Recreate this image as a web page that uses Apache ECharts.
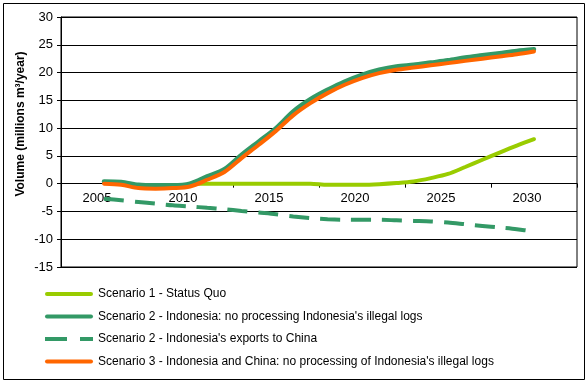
<!DOCTYPE html>
<html>
<head>
<meta charset="utf-8">
<script src="https://cdn.jsdelivr.net/npm/echarts@6/dist/echarts.min.js"></script>
<style>
html,body{margin:0;padding:0;background:#fff;}
#c{width:587px;height:384px;}
</style>
</head>
<body>
<div id="c"></div>
<script>
// Categories: years on the axis (2003..2032); data runs 2005..2030
var years = [];
for (var y = 2003; y <= 2032; y++) years.push(String(y));

var yTicks = [-15, -10, -5, 0, 5, 10, 15, 20, 25, 30];

// values 2005..2030 (null = not drawn)
var s1StatusQuo = [null, null, null, null, null, 0, 0, 0, 0, 0, 0, 0, 0, -0.2, -0.2, -0.2, -0.1, 0.1, 0.4, 1.0, 1.75, 3.0, 4.3, 5.6, 6.85, 8.0];
var s2Indonesia = [0.4, 0.3, -0.2, -0.3, -0.3, 0.0, 1.3, 2.6, 5.2, 7.6, 10.0, 13.0, 15.2, 16.9, 18.4, 19.6, 20.5, 21.1, 21.4, 21.8, 22.2, 22.7, 23.1, 23.5, 23.9, 24.2];
var s2Exports = [-2.7, -3.0, -3.3, -3.6, -3.9, -4.1, -4.35, -4.6, -4.9, -5.2, -5.5, -5.9, -6.2, -6.4, -6.5, -6.5, -6.5, -6.6, -6.7, -6.8, -7.0, -7.3, -7.6, -7.9, -8.2, -8.6];
var s3IndoChina = [0.0, -0.2, -0.8, -0.9, -0.8, -0.5, 0.7, 2.1, 4.6, 7.0, 9.5, 12.3, 14.5, 16.3, 17.8, 19.0, 19.9, 20.5, 20.9, 21.3, 21.7, 22.1, 22.5, 22.9, 23.3, 23.8];

var names = [
  'Scenario 1 - Status Quo',
  "Scenario 2 - Indonesia: no processing Indonesia's illegal logs",
  "Scenario 2 - Indonesia's exports to China",
  "Scenario 3 - Indonesia and China: no processing of Indonesia's illegal logs"
];

function pad(arr) {
  return [null, null].concat(arr).concat([null, null]);
}

var FONT = '"Liberation Sans", Arial, sans-serif';
var GRID_TOP = 17, GRID_BOTTOM = 117, H = 384;
var gridH = H - GRID_TOP - GRID_BOTTOM;
var zeroOffset = -gridH * (0 - yTicks[0]) / (yTicks[yTicks.length - 1] - yTicks[0]);

var solidIcon = 'path://M2,0H46Q48,0 48,2Q48,4 46,4H2Q0,4 0,2Q0,0 2,0Z';
var dashIcon = 'path://M0,0H22V4H0Z M35,0H48V4H35Z';

var chart = echarts.init(document.getElementById('c'), null, {renderer: 'canvas'});
chart.setOption({
  animation: false,
  backgroundColor: '#fff',
  grid: {left: 61, top: GRID_TOP, right: 10, bottom: GRID_BOTTOM, show: true, borderColor: '#000', borderWidth: 1, backgroundColor: 'transparent'},
  xAxis: {
    type: 'category',
    data: years,
    boundaryGap: true,
    offset: zeroOffset,
    axisLine: {onZero: false, lineStyle: {color: '#000', width: 1}},
    axisTick: {show: true, length: 4, lineStyle: {color: '#000'},
      interval: function (i) { return i % 5 === 0; }},
    axisLabel: {
      interval: function (i, v) { return Number(v) % 5 === 0; },
      color: '#000', fontFamily: FONT, fontSize: 13, margin: 8,
      padding: [0, 14, 0, 0]
    },
    splitLine: {show: false}
  },
  yAxis: {
    type: 'value',
    min: yTicks[0], max: yTicks[yTicks.length - 1], interval: 5,
    axisLine: {show: true, onZero: false, lineStyle: {color: '#000', width: 1}},
    axisTick: {show: true, length: 4, lineStyle: {color: '#000'}},
    axisLabel: {color: '#000', fontFamily: FONT, fontSize: 13, margin: 8},
    splitLine: {show: true, lineStyle: {color: '#000', width: 1}}
  },
  legend: {
    orient: 'vertical',
    left: 40, top: 282,
    itemWidth: 48, itemHeight: 4, itemGap: 8.5,
    data: [
      {name: names[0], icon: solidIcon},
      {name: names[1], icon: solidIcon},
      {name: names[2], icon: dashIcon},
      {name: names[3], icon: solidIcon}
    ],
    textStyle: {color: '#000', fontFamily: FONT, fontSize: 12, lineHeight: 14}
  },
  graphic: [
    {type: 'rect', shape: {x: 3.5, y: 3.5, width: 581, height: 376}, style: {fill: 'none', stroke: '#000', lineWidth: 1}, silent: true, z: -1},
    {type: 'text', x: 21, y: 124, rotation: Math.PI / 2,
      style: {text: 'Volume (millions m\u00b3/year)', fill: '#000', font: 'bold 12px ' + FONT, align: 'center', verticalAlign: 'middle'}}
  ],
  series: [
    {name: names[0], type: 'line', data: pad(s1StatusQuo), symbol: 'none', smooth: 0.3,
      lineStyle: {color: '#99cc00', width: 4, cap: 'round'}, itemStyle: {color: '#99cc00'}},
    {name: names[2], type: 'line', data: pad(s2Exports), symbol: 'none', smooth: 0.3,
      lineStyle: {color: '#339966', width: 4, type: [20, 11]}, itemStyle: {color: '#339966'}},
    {name: names[1], type: 'line', data: pad(s2Indonesia), symbol: 'none', smooth: 0.3,
      lineStyle: {color: '#339966', width: 4.5, cap: 'round'}, itemStyle: {color: '#339966'}},
    {name: names[3], type: 'line', data: pad(s3IndoChina), symbol: 'none', smooth: 0.3,
      lineStyle: {color: '#ff6600', width: 4, cap: 'round'}, itemStyle: {color: '#ff6600'}}
  ]
});
</script>
</body>
</html>
